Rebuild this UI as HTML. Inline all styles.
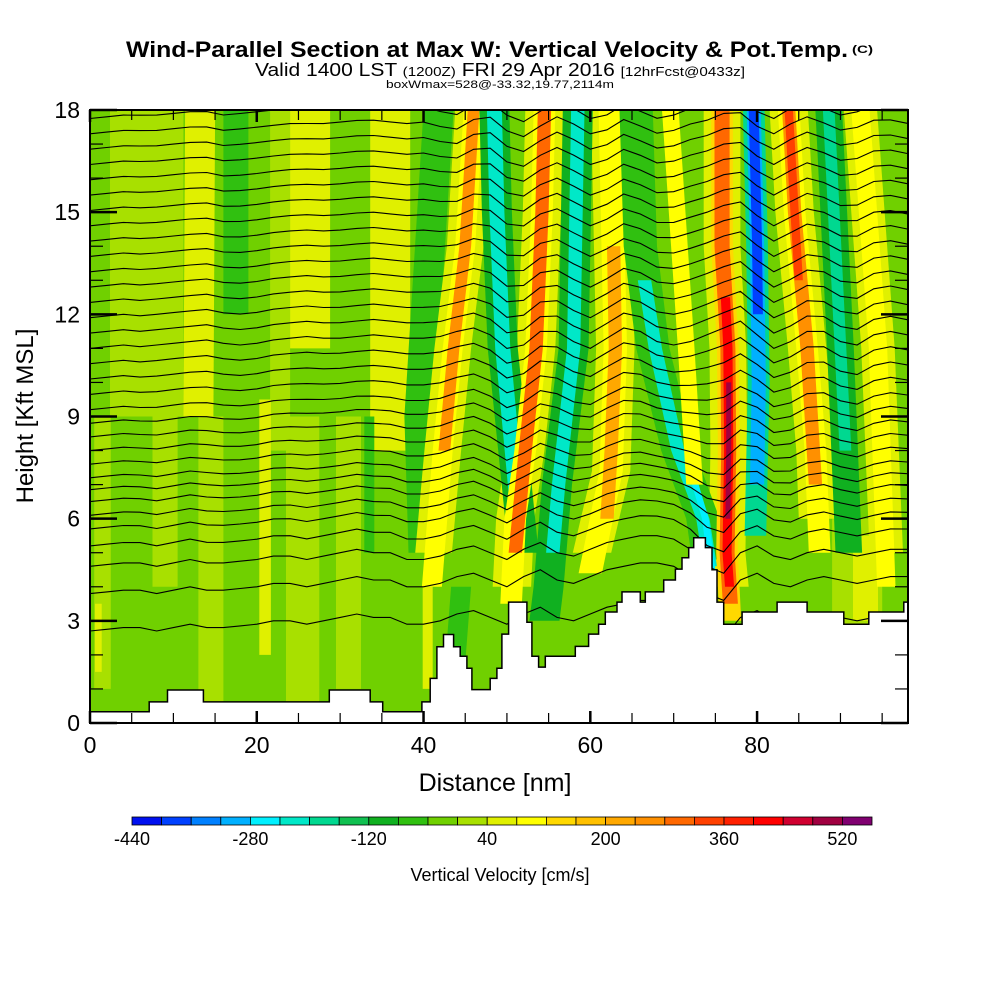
<!DOCTYPE html>
<html><head><meta charset="utf-8">
<style>
html,body{margin:0;padding:0;background:#fff;}
svg{display:block;font-family:"Liberation Sans",Arial,sans-serif;}
</style></head>
<body>
<svg id="chart" width="1000" height="1000" viewBox="0 0 1000 1000">
  <defs><clipPath id="plotclip"><rect x="90" y="110" width="818" height="613"/></clipPath></defs>
  <text x="126" y="57" font-size="22" font-weight="bold" textLength="722" lengthAdjust="spacingAndGlyphs">Wind-Parallel Section at Max W: Vertical Velocity &amp; Pot.Temp.</text>
  <text x="852" y="53" font-size="11" font-weight="bold" textLength="21" lengthAdjust="spacingAndGlyphs">(C)</text>
  <text x="255" y="76" font-size="18" textLength="490" lengthAdjust="spacingAndGlyphs">Valid 1400 LST <tspan font-size="13">(1200Z)</tspan> FRI 29 Apr 2016 <tspan font-size="13">[12hrFcst@0433z]</tspan></text>
  <text x="386" y="88" font-size="11" textLength="228" lengthAdjust="spacingAndGlyphs">boxWmax=528@-33.32,19.77,2114m</text>
  <g id="plot" clip-path="url(#plotclip)"></g>
  <g id="axes"></g>
  <text x="495" y="791" font-size="25" text-anchor="middle">Distance [nm]</text>
  <text transform="translate(33,416) rotate(-90)" font-size="24" text-anchor="middle">Height [Kft MSL]</text>
  <g id="cbar"></g>
  <text x="500" y="881" font-size="18" text-anchor="middle">Vertical Velocity [cm/s]</text>
</svg>
<script>
// ---- data ----
const colors = ["#0010f0","#0040ff","#0080ff","#00b0ff","#00f0ff","#00e8c8","#00d890","#10c050","#10b020","#30c010","#70d000","#a8e000","#e0f000","#ffff00","#ffd800","#ffc000","#ffa800","#ff9000","#ff6800","#ff4000","#ff2000","#ff0000","#d00030","#a00040","#800070"];
const cbarLabels = [-440,-280,-120,40,200,360,520];
const xTickLabels = [0,20,40,60,80];
const yTickLabels = [0,3,6,9,12,15,18];
const backgroundW = -20;
// vertical-velocity bands: value (cm/s), half width (nm), heights (kft), centre positions (nm)
const bandVals = [20,60,-60,20,60,60,-80,20,60,20,20,60,20,20,-60,60,-80,20,60,
  60,60,60,60,60,60,
  100,240,-100,-220,100,280,-100,-220,100,200,-70,-220,-280,80,120,300,400,500,-200,-300,-400,100,240,330,-100,-180,100];
const bandHW = [4.4,1.8,1.5,1.2,2.4,2.4,1.8,1,0.4,1.5,1.5,0.7,2,1.5,0.6,0.6,1.2,3,1.5,
  2.2,2.3,2.3,2.2,2.3,2.0,
  1.2,0.7,1.8,0.9,1.3,0.8,1.8,0.8,1.4,0.8,2,0.8,0.4,1.0,1.3,0.9,0.55,0.3,1.3,0.85,0.6,1.3,0.8,0.5,1.6,0.7,1.1];
const bandHts = [[9,18],[9,18],[12,18],[8,18],[11,18],[8,18],[5,9,18],[1,9],[1.5,3.5],[4,9],[0.5,9],[2,9.5],[0.5,9],[1,9],[5,9],[1,4],[0.8,4],[2.5,6],[3,5.5],
  [5,8,11,14,18],[4,6,8,11,15,18],[5,7.4,11,18],[4,5,8,11,14,18],[6,8,11,15,18],[5,11,18],
  [4,8,11,14,18],[8,11,14,18],[5,7.4,11,15,18],[6.5,11,15,18],[3.5,6,8,11,15,18],[5,8,11,15,18],[3,4,7,11,18],[5,7,11,18],[4.4,7.4,11,18],[6,8,11,14],
  [4.8,6,8,11,14,18],[4.6,6,8,11,13],[4.5,6,7.5],[7,11,18],[3,5,8,11,14,18],[3.5,5,8,11,14,18],[4,5,8,11,12.5],[6,8,10],
  [5.5,10,14,18],[7,10,14,18],[12,14,18],[5,8,11,15,18],[7,11,15,18],[13,15,18],[5,11,18],[8,11,18],[4,11,18]];
const bandCtr = [[6.8,6.8],[13,13.2],[17.5,17.5],[22.8,22.8],[26.4,26.4],[36,36],[40,39.5,41.8],[1.5,1.5],[1,1],[9,9],[14.5,14.5],[21,21],[25.5,25.5],[31,31],[33.5,33.5],[40.5,40.5],[43.5,44.5],[92,92],[93,93],
  [41.2,42.3,43.5,45,46],[50.6,51,52.2,53.5,54.2,54.5],[60.2,62.5,63,62.4],[76.8,76.4,76.6,76.5,75.8,75.8],[87.3,87,86,84.5,83.8],[95.5,94.5,92.4],
  [41,42.3,43.5,45,46],[42.5,43.6,45,46],[52,51,49.5,48.8,48.5],[51.2,49.5,48.8,48.5],[50.5,51,52.2,53.5,54.2,54.5],[51,52.2,53.5,54.2,54.5],[54.5,55,56,58,58.5],[55.5,56.2,58,58.5],[60,62.5,63,62.4],[62,62.5,63,62.8],
  [74.2,73.5,70.5,67.5,66,65.5],[74.4,73.5,70.5,67.8,66.5],[74.6,73.8,72],[72.5,71.5,69.6],[76.8,76.4,76.6,76.5,75.8,75.8],[76.8,76.4,76.6,76.5,75.8,75.8],[76.7,76.4,76.6,76.5,76.2],[76.5,76.6,76.6],
  [79.8,80.2,80,79.6],[80,80.2,80,79.6],[80.1,80,79.6],[87.5,87,86,84.5,83.8],[87,86,84.5,83.8],[85,84.5,83.8],[91,90,88.6],[90.6,90,88.6],[95.5,94.5,92.4]];
// potential temperature contour base heights (kft)
const thetaLevels = [17.75,17.3,16.85,16.4,15.95,15.5,15.05,14.6,14.15,13.7,13.25,12.8,12.35,11.9,11.45,11.0,10.55,10.1,9.65,9.2,8.8,8.4,8.0,7.6,7.2,6.85,6.5,6.1,5.7,5.2,4.6,3.8,2.7];
const dispNm = [0,2,4,6,8,10,12,14,16,18,20,22,24,26,28,30,32,34,36,38,40,42,44,46,48,50,52,54,56,58,60,62,64,66,68,70,72,74,76,78,80,82,84,86,88,90,92,94,96,98];
const disp18 = [0,0.05,0.1,0.1,0.1,0.15,0.2,0.2,0.1,0.15,0.2,0.25,0.3,0.3,0.3,0.35,0.4,0.4,0.35,0.3,0.35,0.2,0.1,0.4,0.5,0.1,-0.1,0.2,0.5,0.3,0,0.1,0.4,0.2,0,0.1,0.3,0.4,0.6,0.6,0.2,0,0.3,0.5,0.3,0.1,0.2,0.4,0.4,0.3];
const disp11 = [0,0.05,0.1,0.05,0.1,0.15,0.2,0.25,0.15,0.1,0.15,0.25,0.3,0.35,0.3,0.3,0.35,0.4,0.35,0.3,0.3,0.35,0.5,0.6,0.4,0,0.1,0.5,0.5,0.2,0,0.3,0.6,0.5,0.2,0.1,0.2,0.4,0.6,0.8,0.4,0,0.2,0.5,0.5,0.2,0.1,0.4,0.5,0.4];
const disp5 = [0,0.05,0.1,0.1,0,0.1,0.2,0.1,0.1,0.15,0.2,0.3,0.3,0.2,0.3,0.4,0.5,0.4,0.4,0.2,0.2,0.3,0.5,0.6,0.4,0.2,0.5,0.7,0.4,0.3,0.5,0.7,0.8,0.9,0.9,0.8,0.5,0,-0.2,0.4,0.6,0.3,0.2,0.4,0.5,0.4,0.3,0.4,0.5,0.5];
// terrain: step starts (nm) and heights (kft)
const terrX = [0,7.1,9.3,13.6,28.7,33.6,35.1,39.8,40.8,41.6,42.4,43.6,44.4,45.2,45.8,48,48.8,49.4,50.2,52.4,53,53.8,54.6,58.2,59.8,61,61.8,63.2,63.8,66,66.6,68.8,70.2,71,71.8,72.4,73.8,74.6,75.2,76,78.2,82.4,86,90.4,93.4,97.6];
const terrH = [0.33,0.62,0.97,0.62,0.97,0.62,0.33,0.62,1.31,2.24,2.6,2.24,1.96,1.61,0.98,1.31,1.61,2.61,3.55,2.96,1.96,1.64,1.96,2.25,2.61,2.9,3.26,3.55,3.85,3.55,3.85,4.2,4.52,4.85,5.15,5.44,5.15,4.5,3.55,2.9,3.26,3.55,3.26,2.9,3.26,3.55];

// ---- scales ----
const X0=90,X1=908,Y0=723,Y1=110,XMAX=98.1,YMAX=18;
const xs = nm => X0 + nm/XMAX*(X1-X0);
const ys = k => Y0 - k/YMAX*(Y0-Y1);
const colorOf = v => colors[Math.max(0,Math.min(24,Math.floor((v+440)/40)))];
const NS="http://www.w3.org/2000/svg";
const mk = (tag,parent) => { const e=document.createElementNS(NS,tag); parent.appendChild(e); return e; };
const plot=document.getElementById('plot'), axes=document.getElementById('axes'), cbar=document.getElementById('cbar');

const bg=mk('rect',plot);


bg.setAttribute('x',X0);bg.setAttribute('y',Y1);bg.setAttribute('width',X1-X0);bg.setAttribute('height',Y0-Y1);
bg.setAttribute('fill',colorOf(backgroundW));

bandVals.forEach((v,i)=>{
  const h=bandHts[i], c=bandCtr[i], w=bandHW[i];
  const left=h.map((hh,j)=>xs(c[j]-w).toFixed(1)+','+ys(hh).toFixed(1));
  const right=h.map((hh,j)=>xs(c[j]+w).toFixed(1)+','+ys(hh).toFixed(1)).reverse();
  const p=mk('polygon',plot);
  
  
  p.setAttribute('points',left.concat(right).join(' '));
  p.setAttribute('fill',colorOf(v));
});

function dispAt(j,h){
  if(h<=5) return disp5[j];
  if(h<=11){const t=(h-5)/6;return disp5[j]*(1-t)+disp11[j]*t;}
  const t=Math.min(1,(h-11)/7);return disp11[j]*(1-t)+disp18[j]*t;
}
thetaLevels.forEach(base=>{
  const pts=dispNm.map((nm,j)=>xs(nm).toFixed(1)+','+ys(base+dispAt(j,base)).toFixed(1));
  const l=mk('polyline',plot);
  
  
  l.setAttribute('points',pts.join(' '));
  l.setAttribute('fill','none');l.setAttribute('stroke','#000');l.setAttribute('stroke-width','1.1');
});

let d='M'+xs(0)+','+ys(0);
terrX.forEach((x,i)=>{const xe=i<terrX.length-1?terrX[i+1]:XMAX+1;d+=' L'+xs(x).toFixed(1)+','+ys(terrH[i]).toFixed(1)+' L'+xs(xe).toFixed(1)+','+ys(terrH[i]).toFixed(1);});
d+=' L'+xs(XMAX+1)+','+ys(0)+' Z';
const ter=mk('path',plot);


ter.setAttribute('d',d);ter.setAttribute('fill','#fff');ter.setAttribute('stroke','#000');ter.setAttribute('stroke-width','1.5');

const fr=mk('rect',axes);


fr.setAttribute('x',X0);fr.setAttribute('y',Y1);fr.setAttribute('width',X1-X0);fr.setAttribute('height',Y0-Y1);
fr.setAttribute('fill','none');fr.setAttribute('stroke','#000');fr.setAttribute('stroke-width','2');
function line(x1,y1,x2,y2,w,name){const l=mk('line',axes);l.setAttribute('x1',x1);l.setAttribute('y1',y1);l.setAttribute('x2',x2);l.setAttribute('y2',y2);l.setAttribute('stroke','#000');l.setAttribute('stroke-width',w);}
for(let nm=0;nm<=95;nm+=5){const major=nm%20===0;const x=xs(nm);line(x,Y0,x,Y0-(major?12:10),major?2.5:1.2,'x-tick');line(x,Y1,x,Y1+(major?12:10),major?2.5:1.2,'x-tick');}
for(let k=0;k<=18;k++){const major=k%3===0;const y=ys(k);line(X0,y,X0+(major?27:13),y,major?2.5:1.2,'y-tick');line(X1,y,X1-(major?27:13),y,major?2.5:1.2,'y-tick');}
xTickLabels.forEach(v=>{const t=mk('text',axes);t.setAttribute('x',xs(v));t.setAttribute('y',753);t.setAttribute('font-size','23');t.setAttribute('text-anchor','middle');t.textContent=v;});
yTickLabels.forEach(v=>{const t=mk('text',axes);t.setAttribute('x',80);t.setAttribute('y',ys(v)+8);t.setAttribute('font-size','23');t.setAttribute('text-anchor','end');t.textContent=v;});

const CB0=132,CB1=872,cw=(CB1-CB0)/colors.length;
colors.forEach((c,i)=>{const r=mk('rect',cbar);r.setAttribute('x',CB0+i*cw);r.setAttribute('y',817);r.setAttribute('width',cw);r.setAttribute('height',8);r.setAttribute('fill',c);r.setAttribute('stroke','#000');r.setAttribute('stroke-width','0.8');});
cbarLabels.forEach(v=>{const t=mk('text',cbar);t.setAttribute('x',CB0+(v+440)/40*cw);t.setAttribute('y',845);t.setAttribute('font-size','18');t.setAttribute('text-anchor','middle');t.textContent=v;});
</script>
</body></html>
